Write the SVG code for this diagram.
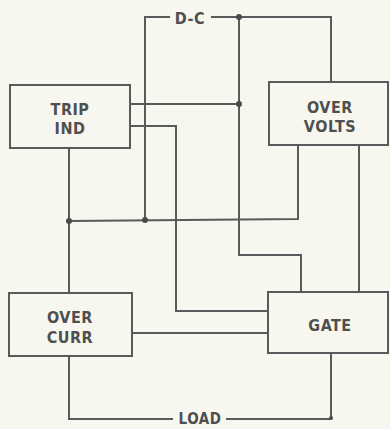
<svg xmlns="http://www.w3.org/2000/svg" width="390" height="429" viewBox="0 0 390 429">
<style>
.bg{fill:#f8f7ef}
.box{fill:none;stroke:#5a5a5a;stroke-width:2}
.w{fill:none;stroke:#5a5a5a;stroke-width:2;stroke-linejoin:miter}
.dot{fill:#4a4a4a}
text{font-family:"DejaVu Sans Condensed","DejaVu Sans",sans-serif;font-weight:bold;font-size:16px;fill:#4f4f4f;text-anchor:middle;letter-spacing:0.5px}
</style>
<rect class="bg" x="0" y="0" width="390" height="429"/>
<g id="connectors">
<path class="w" d="M145,220 V17 H170"/>
<path class="w" d="M211,17 H331 V82"/>
<path class="w" d="M239,17 V255 H301 V292"/>
<path class="w" d="M130,104 H239"/>
<path class="w" d="M130,126 H176 V311 H268"/>
<path class="w" d="M69,221 L298,219 V145"/>
<path class="w" d="M69,148 V293"/>
<path class="w" d="M359,145 V292"/>
<path class="w" d="M132,333 H268"/>
<path class="w" d="M69,356 V419 H173"/>
<path class="w" d="M226,419 H331 V353"/>
<circle class="dot" cx="239" cy="17" r="3"/>
<circle class="dot" cx="239" cy="104" r="3"/>
<circle class="dot" cx="69" cy="221" r="3"/>
<circle class="dot" cx="145" cy="220" r="3"/>
<circle class="dot" cx="331" cy="418" r="2"/>
<text x="190" y="24">D-C</text>
<text x="200" y="424" style="font-size:15px">LOAD</text>
</g>
<g id="trip-ind">
<rect class="box" x="10" y="85" width="120" height="63"/>
<text x="70" y="115">TRIP</text>
<text x="70" y="134">IND</text>
</g>
<g id="over-volts">
<rect class="box" x="269" y="82" width="119" height="63"/>
<text x="330" y="113">OVER</text>
<text x="330" y="132">VOLTS</text>
</g>
<g id="over-curr">
<rect class="box" x="9" y="293" width="123" height="63"/>
<text x="70" y="323">OVER</text>
<text x="70" y="343">CURR</text>
</g>
<g id="gate">
<rect class="box" x="268" y="292" width="120" height="61"/>
<text x="330" y="331">GATE</text>
</g>
</svg>
